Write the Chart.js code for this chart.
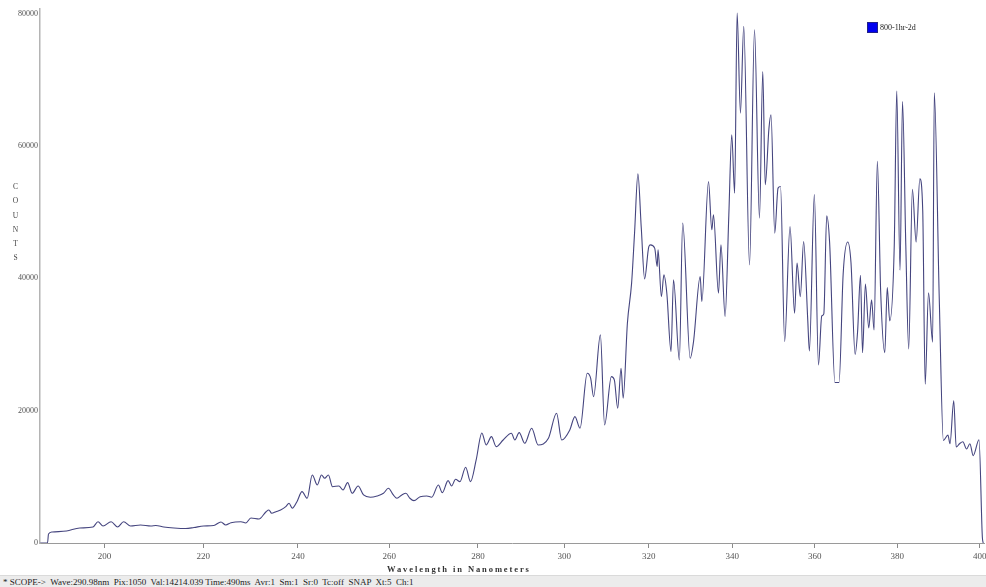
<!DOCTYPE html>
<html>
<head>
<meta charset="utf-8">
<script src="https://cdn.jsdelivr.net/npm/chart.js@4.4.1/dist/chart.umd.min.js"></script>
<style>
  html, body { margin: 0; padding: 0; background: #fff; }
  #wrap { position: relative; width: 986px; height: 587px; overflow: hidden; font-family: "Liberation Serif", "Times New Roman", serif; }
  #plot { position: absolute; left: 0; top: 0; }
  .counts { position: absolute; left: 11px; top: 180px; width: 9px; font-size: 7.5px; line-height: 14.3px; color: #444; text-align: center; }
  .xtitle { position: absolute; left: 387px; top: 564px; font-size: 8.5px; font-weight: bold; letter-spacing: 1.9px; color: #333; white-space: nowrap; }
  .legend { position: absolute; left: 867px; top: 22px; font-size: 8px; color: #222; display: flex; align-items: center; white-space: nowrap; }
  .legend i { display: inline-block; width: 11px; height: 11px; background: #0000f0; border: 1px solid #20208a; box-sizing: border-box; margin-right: 2px; }
  .status { position: absolute; left: 0; top: 575px; width: 983px; height: 12px; background: #ececec; border-top: 1px solid #dadada; font-size: 9px; line-height: 12px; color: #222; white-space: pre; padding-left: 3px; }
</style>
</head>
<body>
<div id="wrap">
  <canvas id="plot" width="986" height="574"></canvas>
  <div class="counts">C<br>O<br>U<br>N<br>T<br>S</div>
  <div class="xtitle">Wavelength in Nanometers</div>
  <div class="legend"><i></i><span id="legendLabel"></span></div>
  <div class="status">* SCOPE->  Wave:290.98nm  Pix:1050  Val:14214.039 Time:490ms  Avr:1  Sm:1  Sr:0  Tc:off  SNAP  Xt:5  Ch:1</div>
</div>
<script>
const seriesName = "800-1hr-2d";

const wavelengths = [
  187.4, 188.8, 189.0, 189.7, 192.5, 195.1, 197.7, 198.7, 199.7, 201.3,
  202.6, 203.8, 205.2, 207.2, 209.3, 210.3, 211.9, 214.0, 216.4, 218.1,
  220.1, 222.2, 223.7, 224.7, 225.8, 227.9, 228.9, 230.0, 231.7, 233.2,
  233.8, 234.4, 235.3, 236.3, 237.4, 238.1, 238.8, 239.8, 240.9, 242.0,
  243.1, 244.2, 245.1, 245.8, 246.6, 247.5, 248.9, 249.8, 250.8, 251.8,
  253.1, 254.3, 255.8, 257.3, 258.7, 259.8, 260.9, 261.7, 262.8, 263.7,
  264.6, 265.5, 266.9, 268.4, 269.5, 271.0, 271.9, 273.2, 274.0, 274.9,
  275.9, 277.2, 278.3, 279.6, 280.9, 281.9, 283.1, 284.2, 285.8, 287.7,
  288.5, 289.5, 290.8, 292.4, 293.9, 296.3, 298.2, 299.4, 301.3, 302.5,
  303.7, 305.4, 306.2, 306.9, 308.5, 309.5, 311.1, 311.8, 312.6, 313.4,
  313.9, 314.9, 315.9, 316.6, 317.4, 318.2, 319.0, 320.0, 320.4, 321.4,
  322.0, 322.2, 323.0, 323.6, 324.3, 325.3, 325.9, 327.3, 328.1, 329.9,
  330.7, 332.3, 332.7, 334.3, 335.1, 335.5, 336.7, 337.3, 338.3, 339.2,
  339.9, 340.6, 341.2, 342.0, 342.8, 344.2, 345.4, 346.6, 347.4, 348.0,
  348.9, 349.4, 350.3, 351.1, 351.7, 352.7, 354.0, 355.1, 355.7, 356.5,
  357.3, 358.3, 358.7, 359.9, 360.9, 361.7, 362.2, 362.9, 363.6, 364.9,
  365.9, 366.9, 368.0, 368.8, 369.8, 370.4, 371.1, 371.6, 372.3, 373.1,
  373.8, 374.4, 375.2, 376.0, 377.0, 377.6, 378.2, 379.3, 379.9, 380.7,
  381.3, 382.1, 382.8, 383.7, 384.6, 385.5, 386.2, 386.8, 387.6, 388.6,
  389.0, 390.2, 391.2, 392.3, 392.8, 393.7, 394.3, 395.1, 395.9, 396.8,
  397.6, 398.4, 399.8, 400.6, 400.8
];

const counts = [
  0, 0, 1360, 1660, 1810, 2270, 2420, 3220, 2570, 3220,
  2420, 3220, 2570, 2720, 2570, 2650, 2420, 2270, 2190, 2340,
  2570, 2650, 3180, 2720, 3070, 3220, 3020, 3780, 3630, 4730,
  4990, 4490, 4730, 4990, 5490, 6000, 5250, 6240, 7760, 6760,
  10280, 8770, 10280, 9780, 10280, 8510, 8620, 8010, 9120, 7510,
  8620, 7260, 6910, 7110, 7510, 8270, 7260, 6760, 7260, 7510,
  6760, 6400, 7000, 7110, 6910, 8770, 7610, 9420, 8620, 9630,
  9270, 11450, 9270, 12550, 16630, 14820, 16070, 14560, 15570, 16590,
  15570, 16680, 15070, 17340, 14820, 15830, 19610, 15570, 17090, 19100,
  17340, 25660, 24900, 22120, 31450, 17840, 25140, 24650, 20370, 26410,
  21880, 33220, 39270, 46830, 55790, 47630, 39920, 44800, 45060, 44560,
  41780, 44300, 37240, 40520, 37750, 28920, 39770, 27670, 48340, 27930,
  30440, 40260, 36480, 54630, 47330, 49590, 37750, 45060, 34220, 49590,
  61690, 52870, 80090, 64970, 78070, 42030, 77570, 49100, 71260, 54130,
  62700, 64710, 46830, 53630, 53870, 30440, 47830, 34730, 42290, 37240,
  45560, 33720, 29030, 52650, 26910, 34320, 34620, 49460, 45510, 24250,
  24250, 40700, 45480, 42340, 28500, 31950, 40450, 28760, 39120, 32510,
  36740, 32210, 57680, 38060, 28760, 38590, 33570, 44950, 68300, 41230,
  66710, 44950, 29330, 53450, 45480, 55040, 50260, 23990, 37800, 30360,
  68040, 36980, 15500, 16300, 15000, 21500, 14500, 15000, 15300, 14200,
  15000, 13200, 15600, 900, 0
];

const xTicks = [200, 220, 240, 260, 280, 300, 320, 340, 360, 380, 400];
const yTicks = [0, 20000, 40000, 60000, 80000];

// the spectrometer's wavelength axis is not linear in pixels
const dispersion = (w) => {
  const u = (w - 200) / 100;
  return u * (503.45 + u * (-54.45 + u * 10.8));
};

class SpectroScale extends Chart.LinearScale {
  _frac(v) {
    const a = dispersion(this.min);
    const b = dispersion(this.max);
    return (dispersion(v) - a) / (b - a);
  }
  getPixelForValue(value) {
    if (value === null || value === undefined) {
      return NaN;
    }
    return this.getPixelForDecimal(this._frac(value));
  }
  getValueForPixel(pixel) {
    const t = this.getDecimalForPixel(pixel);
    let lo = this.min;
    let hi = this.max;
    for (let i = 0; i < 40; i++) {
      const mid = (lo + hi) / 2;
      if (this._frac(mid) < t) lo = mid; else hi = mid;
    }
    return (lo + hi) / 2;
  }
}
SpectroScale.id = "spectro";
SpectroScale.defaults = Chart.LinearScale.defaults;
Chart.register(SpectroScale);

document.getElementById("legendLabel").textContent = seriesName;

const tickFont = { family: "'Liberation Serif', 'Times New Roman', serif", size: 8 };

new Chart(document.getElementById("plot"), {
  type: "line",
  data: {
    datasets: [
      {
        label: seriesName,
        data: wavelengths.map((w, i) => ({ x: w, y: counts[i] })),
        borderColor: "#45457f",
        borderWidth: 1.1,
        pointRadius: 0,
        cubicInterpolationMode: "monotone",
        fill: false,
      },
    ],
  },
  options: {
    animation: false,
    responsive: false,
    events: [],
    layout: { padding: { left: 0, right: 2, top: 9, bottom: 0 } },
    plugins: {
      legend: { display: false },
      tooltip: { enabled: false },
    },
    scales: {
      x: {
        type: "spectro",
        min: 187.35,
        max: 401.0,
        afterBuildTicks: (scale) => {
          scale.ticks = xTicks.map((v) => ({ value: v }));
        },
        afterFit: (scale) => {
          scale.height = 31;
          scale.paddingLeft = 0;
          scale.paddingRight = 0;
        },
        grid: {
          display: true,
          drawOnChartArea: false,
          drawTicks: true,
          tickLength: 5,
          color: "#8a8a8a",
        },
        border: { display: true, color: "#9a9a9a", width: 1 },
        ticks: {
          autoSkip: false,
          maxRotation: 0,
          padding: 3,
          color: "#555",
          font: { ...tickFont, size: 9 },
          callback: (v) => String(v),
        },
      },
      y: {
        min: 0,
        max: 80700,
        afterBuildTicks: (scale) => {
          scale.ticks = yTicks.map((v) => ({ value: v }));
        },
        afterFit: (scale) => {
          scale.width = 40;
          scale.paddingTop = 0;
          scale.paddingBottom = 0;
        },
        grid: { display: false, drawTicks: false },
        border: { display: true, color: "#b4b4b4", width: 1.5 },
        ticks: {
          padding: 2,
          color: "#555",
          font: tickFont,
          callback: (v) => String(v),
        },
      },
    },
  },
});
</script>
</body>
</html>
